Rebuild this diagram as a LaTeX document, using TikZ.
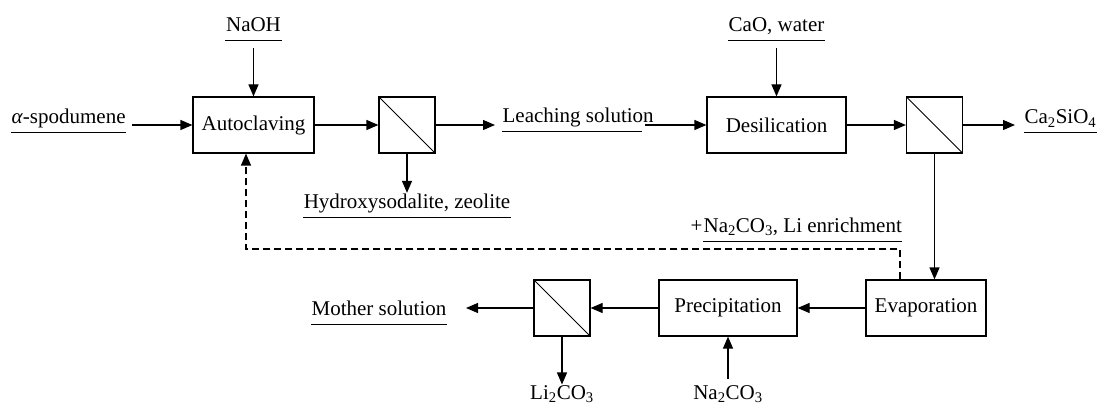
\documentclass[tikz,border=0pt]{standalone}
\usepackage{fontspec}
\setmainfont{Liberation Serif}
\usepackage{tikz}
\usetikzlibrary{arrows.meta,positioning}
\newcommand{\underl}[1]{\draw[line width=1pt] ([yshift=-9pt]#1.base west) -- ([yshift=-9pt]#1.base east);}

\begin{document}
\begin{tikzpicture}[x=1pt, y=-1pt, line width=1.2pt, every node/.style={font=\fontsize{21}{25}\selectfont},
  b/.style={draw, minimum height=56pt, inner sep=0pt},
  fl/.style={draw, minimum width=56pt, minimum height=56pt, inner sep=0pt, path picture={\draw[line width=1pt] (path picture bounding box.north west) -- (path picture bounding box.south east);}},
  lbl/.style={inner sep=0pt},
  ar/.style={-{Triangle[length=12pt,width=10pt]}}]
\useasboundingbox (0,0) rectangle (1097,406);
% process boxes and filters
\node[b, minimum width=121pt] (auto) at (253.5,125) {Autoclaving};
\node[fl] (f1) at (407,125) {};
\node[b, minimum width=139pt] (desil) at (776.5,125) {Desilication};
\node[fl] (f2) at (934.5,125) {};
\node[b, minimum width=120pt] (evap) at (926,308) {Evaporation};
\node[b, minimum width=138pt] (prec) at (728,308) {Precipitation};
\node[fl] (f3) at (562,308) {};
% inputs and outputs
\node[lbl, anchor=base] (naoh) at (253.5,32) {NaOH};
\node[lbl, anchor=base] (cao) at (776.5,32) {CaO, water};
\node[lbl, anchor=base west] (spod) at (11,124) {\textit{α}-spodumene};
\node[lbl, anchor=base] (hydro) at (407,208) {Hydroxysodalite, zeolite};
\node[lbl, anchor=base west] (leach) at (502,123) {Leaching solution};
\node[lbl, anchor=base west] (casio) at (1024,124) {Ca\textsubscript{2}SiO\textsubscript{4}};
\node[lbl, anchor=base west] (enr) at (703,232) {Na\textsubscript{2}CO\textsubscript{3}, Li enrichment};
\node[lbl, anchor=base east] (plus) at (enr.base west) {+};
\node[lbl, anchor=base east] (moth) at (447,315) {Mother solution};
\node[lbl, anchor=base] (li) at (562,399) {Li\textsubscript{2}CO\textsubscript{3}};
\node[lbl, anchor=base] (na) at (728,399) {Na\textsubscript{2}CO\textsubscript{3}};
\foreach \n in {naoh,cao,spod,hydro,casio,enr,moth} {\underl{\n}}
\draw[line width=1pt] ([yshift=-9pt]leach.base west) -- ([xshift=-12pt,yshift=-9pt]leach.base east);
% flows
\draw[ar] ([yshift=-16pt]naoh.base) -- (auto.north);
\draw[ar] ([yshift=-16pt]cao.base) -- (desil.north);
\draw[ar, shorten <=6pt] (spod.east |- auto.west) -- (auto.west);
\draw[ar] (auto) -- (f1);
\draw[ar, shorten >=7pt] (f1.east) -- (leach.west |- f1.east);
\draw[ar] (f1.south) -- (hydro.north);
\draw[ar, shorten <=-9pt] (leach.east |- desil.west) -- (desil.west);
\draw[ar] (desil) -- (f2);
\draw[ar, shorten >=9pt] (f2.east) -- (casio.west |- f2.east);
\draw[ar] (f2.south) -- (evap.north -| f2.south);
\draw[ar] (evap) -- (prec);
\draw[ar] (prec) -- (f3);
\draw[ar, shorten >=19pt] (f3.west) -- (moth.east |- f3.west);
\draw[ar] (f3.south) -- (li.north);
\draw[ar, shorten <=5pt] (na.north) -- (prec.south);
% recycle
\coordinate (back) at (246,249);
\draw[ar, dash pattern=on 7pt off 4pt] ([xshift=-26pt]evap.north) |- (back) -- ([xshift=-7.5pt]auto.south);
\end{tikzpicture}
\end{document}
